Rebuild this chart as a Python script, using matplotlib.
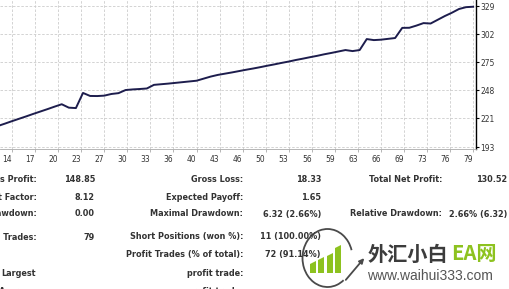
import matplotlib
matplotlib.use("Agg")
from matplotlib import pyplot as plt
from matplotlib import transforms
from matplotlib import font_manager as fm
from matplotlib.patches import Circle, Polygon, FancyArrowPatch, Arc

# equity curve (balance after each trade)
trades = list(range(12, 80))
balance = [213.3, 215.6, 218.0, 220.3, 222.6, 225.0, 227.3, 229.6, 232.0, 234.3,
           231.0, 230.6, 245.2, 242.3, 242.2, 242.6, 244.2, 245.0, 248.0, 248.6,
           249.0, 249.5, 253.0, 253.6, 254.2, 254.9, 255.6, 256.3, 257.0, 259.0,
           261.0, 262.6, 263.8, 265.0, 266.3, 267.6, 268.8, 270.1, 271.5, 272.8,
           274.2, 275.5, 277.0, 278.3, 279.7, 281.0, 282.5, 283.8, 285.2, 286.6,
           285.6, 286.6, 297.2, 296.2, 296.6, 297.4, 298.2, 308.0, 308.1, 310.2,
           312.6, 312.2, 315.8, 319.4, 322.6, 326.2, 328.0, 328.4]

x_grid = [14 + 3.25 * k for k in range(21)]
x_labels = ['14', '17', '20', '23', '27', '30', '33', '36', '40', '43', '46',
            '50', '53', '56', '59', '63', '66', '69', '73', '76', '79']
y_ticks = [193, 221, 248, 275, 302, 329]

# report table rows: (label, value) per column
col1 = [('Gross Profit:', '148.85'), ('Profit Factor:', '8.12'),
        ('Absolute Drawdown:', '0.00'), ('Total Trades:', '79')]
col2 = [('Gross Loss:', '18.33'), ('Expected Payoff:', '1.65'),
        ('Maximal Drawdown:', '6.32 (2.66%)'), ('Short Positions (won %):', '11 (100.00%)'),
        ('Profit Trades (% of total):', '72 (91.14%)'), ('profit trade:', ''),
        ('profit trade:', '')]
col3 = [('Total Net Profit:', '130.52'), ('', ''), ('Relative Drawdown:', '2.66% (6.32)')]
row_y = [179, 197, 214, 237, 255, 273, 291]

W, H = 510, 289


def fx(x):
    return x / W


def fy(y):
    return 1 - y / H


def narrow_font(bold, size):
    # look for a narrow / condensed face, the report text is squeezed sideways
    found = []
    for f in fm.fontManager.ttflist:
        narrow = ('Narrow' in f.name or 'Condensed' in f.name or
                  f.stretch in ('condensed', 'semi-condensed', 'extra-condensed', 'ultra-condensed'))
        if not narrow:
            continue
        w = f.weight
        is_bold = w >= 600 if isinstance(w, int) else w in ('bold', 'semibold', 'demibold', 'heavy')
        if is_bold != bold or f.style != 'normal':
            continue
        rank = 0 if 'Liberation' in f.name else (1 if 'DejaVu' in f.name else 2)
        found.append((rank, f.fname))
    if found:
        found.sort()
        return fm.FontProperties(fname=found[0][1], size=size)
    return fm.FontProperties(family='DejaVu Sans', weight='bold' if bold else 'normal', size=size)


fp_reg = narrow_font(False, 6)

fig = plt.figure(figsize=(W / 100, H / 100), dpi=100)
ax = fig.add_axes([0, fy(149), fx(476), 149 / H])

ax.plot(trades, balance, color='#1d1d4d', lw=1.4, zorder=3)
ax.set_xlim(12.3, 79.4)
ax.set_ylim(191.1, 334.9)

ax.yaxis.tick_right()
ax.set_xticks(x_grid)
ax.set_xticklabels(x_labels, fontproperties=fp_reg, color='#333333')
ax.set_yticks(y_ticks)
ax.set_yticklabels([str(v) for v in y_ticks], fontproperties=fp_reg, color='#333333')
ax.tick_params(axis='x', length=2, width=0.5, color='#999999', pad=2)
ax.tick_params(axis='y', length=2, width=0.8, color='black', pad=1)
shift = transforms.ScaledTranslation(-5 / 100, 0, fig.dpi_scale_trans)
for lab in ax.get_xticklabels():
    lab.set_transform(lab.get_transform() + shift)

ax.grid(True, color='#cccccc', lw=0.6, linestyle=(0, (3, 2)))
for s in ['top', 'left']:
    ax.spines[s].set_visible(False)
ax.spines['right'].set_color('black')
ax.spines['right'].set_linewidth(1.0)
ax.spines['bottom'].set_color('#aaaaaa')
ax.spines['bottom'].set_linewidth(0.6)

# report table
texts = []
fp_bold = narrow_font(True, 7.3)


def put(x, y, s, ha='right'):
    t = fig.text(fx(x), fy(y), s, ha=ha, va='center', fontproperties=fp_bold, color='#333333')
    texts.append(t)
    return t


for (lab, val), y in zip(col1, row_y):
    put(37, y, lab)
    put(95, y, val)
put(36, row_y[5], 'Largest')
put(36, row_y[6], 'Average')
ref = None
for (lab, val), y in zip(col2, row_y):
    t = put(243, y, lab)
    if lab == 'Maximal Drawdown:':
        ref = t
    put(321, y, val)
for (lab, val), y in zip(col3, row_y):
    put(442, y, lab)
    put(507, y, val)

# shrink the table font a bit if it runs much wider than the report
fig.canvas.draw()
width = ref.get_window_extent().width
size = min(7.3, 7.3 * 92 / width)
for t in texts:
    t.set_fontsize(size)

# watermark logo
ov = fig.add_axes([0, 0, 1, 1], facecolor='none')
ov.set_xlim(0, W)
ov.set_ylim(H, 0)
ov.axis('off')
ov.add_patch(Circle((327, 258), 34, facecolor='white', edgecolor='none'))
ov.add_patch(Arc((327.5, 258), 50, 58, theta1=54, theta2=342, color='#4a4a4a', lw=1.3))
bars = [(310, 316, 263), (318, 324, 259), (327, 333, 255), (335, 341, 247)]
for x0, x1, top in bars:
    ov.add_patch(Polygon([(x0, 273), (x1, 273), (x1, top - 2), (x0, top + 1)],
                         closed=True, facecolor='#8dc21f', edgecolor='none'))
ov.add_patch(FancyArrowPatch((344, 282), (366, 256), arrowstyle='-|>', mutation_scale=7,
                             color='#4a4a4a', lw=1.3))
ov.text(368, 254, '外汇小白', family=['Noto Sans CJK SC', 'DejaVu Sans'], fontsize=14.5,
        fontweight='bold', color='#3c3c3c', ha='left', va='center')
ov.text(451, 254, 'EA网', family=['Noto Sans CJK SC', 'DejaVu Sans'], fontsize=14.5,
        fontweight='bold', color='#8dc21f', ha='left', va='center')
ov.text(367, 276, 'www.waihui333.com', family=['Liberation Sans', 'DejaVu Sans'], fontsize=10,
        color='#555555', ha='left', va='center')

fig.savefig('out.png', dpi=100, facecolor='white')
